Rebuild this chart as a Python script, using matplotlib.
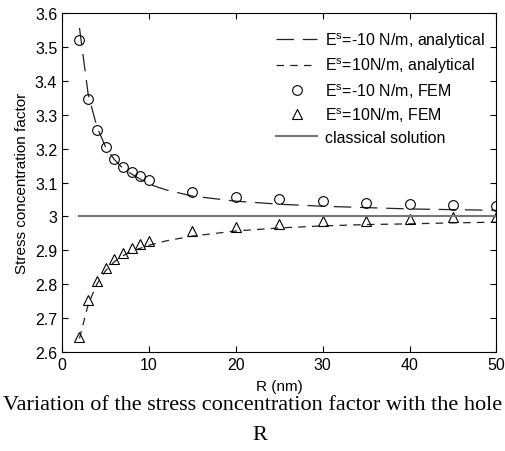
import matplotlib
matplotlib.use('Agg')
from matplotlib import pyplot as plt
from matplotlib.ticker import FormatStrFormatter
import numpy as np

plt.rcParams['font.family'] = ['Liberation Sans', 'DejaVu Sans']
plt.rcParams['mathtext.default'] = 'regular'

# analytical curves
r_line = [2, 3, 4, 5, 6, 7, 8, 10, 12, 15, 20, 25, 30, 35, 40, 45, 50]
scf_neg_line = [3.556, 3.36, 3.265, 3.205, 3.168, 3.142, 3.125, 3.095, 3.078, 3.060,
                3.045, 3.036, 3.030, 3.026, 3.022, 3.020, 3.018]
scf_pos_line = [2.640, 2.740, 2.800, 2.840, 2.866, 2.884, 2.897, 2.915, 2.928, 2.942,
                2.957, 2.966, 2.972, 2.976, 2.978, 2.981, 2.983]

# FEM points
r_fem = [2, 3, 4, 5, 6, 7, 8, 9, 10, 15, 20, 25, 30, 35, 40, 45, 50]
scf_neg_fem = [3.520, 3.345, 3.256, 3.205, 3.170, 3.146, 3.131, 3.118, 3.106, 3.073,
               3.058, 3.050, 3.044, 3.041, 3.038, 3.035, 3.032]
scf_pos_fem = [2.643, 2.753, 2.810, 2.848, 2.875, 2.893, 2.907, 2.918, 2.928, 2.958,
               2.970, 2.978, 2.985, 2.987, 2.993, 2.997, 2.998]

r_classical = [2, 50]
scf_classical = [3.0, 3.0]

labels = [r'E$^{s}$=-10 N/m, analytical', r'E$^{s}$=10N/m, analytical',
          r'E$^{s}$=-10 N/m, FEM', r'E$^{s}$=10N/m, FEM', 'classical solution']

fig = plt.figure(figsize=(5.05, 4.52), dpi=100)
ax = fig.add_axes([0.123, 0.219, 0.860, 0.750])

ax.plot(r_line, scf_neg_line, color='#222222', lw=0.9, ls=(0, (14, 7)), label=labels[0])
ax.plot(r_line, scf_pos_line, color='#222222', lw=0.9, ls=(0, (6, 5)), label=labels[1])
ax.plot(r_fem, scf_neg_fem, ls='none', marker='o', ms=7, mfc='none', mec='black',
        mew=0.8, label=labels[2])
ax.plot(r_fem, scf_pos_fem, ls='none', marker='^', ms=7.5, mfc='none', mec='black',
        mew=0.8, label=labels[3])
ax.plot(r_classical, scf_classical, color='#777777', lw=1.5, label=labels[4])

ax.set_xlim(0, 50)
ax.set_ylim(2.6, 3.6)
ax.set_xticks(np.arange(0, 51, 10))
ax.set_yticks(np.arange(2.6, 3.61, 0.1))
ax.yaxis.set_major_formatter(FormatStrFormatter('%g'))
ax.tick_params(direction='in', top=True, right=True, labelsize=11.5, length=4)
for s in ax.spines.values():
	s.set_linewidth(0.8)

ax.set_xlabel('R (nm)', fontsize=11, labelpad=5)
ax.set_ylabel('Stress concentration factor', fontsize=11, labelpad=4)

ax.legend(loc='upper right', frameon=False, fontsize=11.5, handlelength=2.6,
          handletextpad=0.5, labelspacing=0.36, borderaxespad=0.3,
          bbox_to_anchor=(1.0, 0.982))

fig.text(0.5, 0.102, 'Variation of the stress concentration factor with the hole',
         family='Liberation Serif', fontsize=16, ha='center', va='center')
fig.text(0.515, 0.037, 'R', family='Liberation Serif', fontsize=16,
         ha='center', va='center')

fig.savefig('out.png', dpi=100)
